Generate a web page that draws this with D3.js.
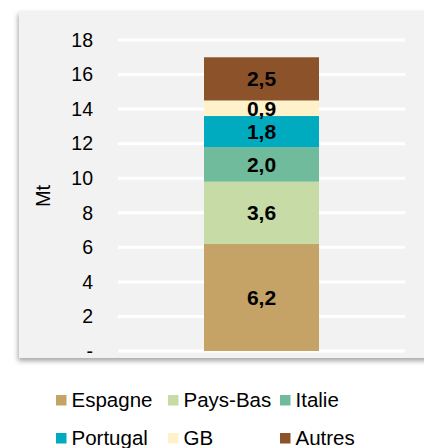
<!DOCTYPE html>
<html>
<head>
<meta charset="utf-8">
<script src="https://cdn.jsdelivr.net/npm/d3@7"></script>
<style>
  body { margin: 0; background: #fff; }
  svg { display: block; font-family: Arial, "Liberation Sans", sans-serif; }
</style>
</head>
<body>
<div id="chart"></div>
<script>
// données
const categories = ["Espagne", "Pays-Bas", "Italie", "Portugal", "GB", "Autres"];
const values = [6.2, 3.6, 2.0, 1.8, 0.9, 2.5];
const labels = ["6,2", "3,6", "2,0", "1,8", "0,9", "2,5"];
const colors = ["#c5a266", "#c6dba6", "#6fbb9c", "#00abc0", "#fff1c9", "#8c522a"];
const yTicks = [0, 2, 4, 6, 8, 10, 12, 14, 16, 18];
const yTickLabels = ["-", "2", "4", "6", "8", "10", "12", "14", "16", "18"];

const WIDTH = 424;
const HEIGHT = 448;

const svg = d3.select("#chart").append("svg")
  .attr("width", WIDTH)
  .attr("height", HEIGHT);

// ombre du cadre
const defs = svg.append("defs");
const filter = defs.append("filter").attr("id", "shadow")
  .attr("x", -0.1).attr("y", -0.1).attr("width", 1.3).attr("height", 1.3);
filter.append("feDropShadow")
  .attr("dx", -1).attr("dy", 3).attr("stdDeviation", 2.5)
  .attr("flood-color", "#000").attr("flood-opacity", 0.35);

svg.append("rect")
  .attr("x", 19).attr("y", 11)
  .attr("width", 430).attr("height", 347)
  .attr("fill", "#f2f2f2")
  .attr("filter", "url(#shadow)");

// échelles
const y = d3.scaleLinear().domain([0, 18]).range([351, 40]);
const x = d3.scaleBand().domain(["total"]).range([118, 405]).paddingInner(0).paddingOuter(0.748);

// grille
svg.append("g")
  .selectAll("line")
  .data(yTicks)
  .join("line")
  .attr("x1", 118).attr("x2", 405)
  .attr("y1", d => y(d)).attr("y2", d => y(d))
  .attr("stroke", "#fff")
  .attr("stroke-width", 3);

// axe Y
const yAxis = d3.axisLeft(y)
  .tickValues(yTicks)
  .tickFormat((d, i) => yTickLabels[i])
  .tickSize(0)
  .tickPadding(0);

const gy = svg.append("g")
  .attr("transform", "translate(93,0)")
  .call(yAxis);
gy.select(".domain").remove();
gy.selectAll("text")
  .attr("font-size", 19.5)
  .attr("font-family", "Arial, 'Liberation Sans', sans-serif")
  .attr("fill", "#000");

svg.append("text")
  .attr("transform", `translate(43,196) rotate(-90)`)
  .attr("text-anchor", "middle")
  .attr("dy", "0.36em")
  .attr("font-size", 20)
  .attr("fill", "#000")
  .text("Mt");

// barre empilée
const stackData = [Object.fromEntries(categories.map((c, i) => [c, values[i]]))];
const series = d3.stack().keys(categories)(stackData);

const bars = svg.append("g");
bars.selectAll("rect")
  .data(series)
  .join("rect")
  .attr("x", x("total"))
  .attr("width", x.bandwidth())
  .attr("y", d => y(d[0][1]))
  .attr("height", d => y(d[0][0]) - y(d[0][1]))
  .attr("fill", (d, i) => colors[i]);

bars.selectAll("text")
  .data(series)
  .join("text")
  .attr("x", x("total") + x.bandwidth() / 2)
  .attr("y", d => y((d[0][0] + d[0][1]) / 2))
  .attr("dy", "0.36em")
  .attr("text-anchor", "middle")
  .attr("font-size", 21)
  .attr("font-weight", "bold")
  .attr("fill", "#000")
  .text((d, i) => labels[i]);

// légende
const legendX = [56, 168, 280];
const legendY = [400, 438];
const legend = svg.append("g")
  .selectAll("g")
  .data(categories)
  .join("g")
  .attr("transform", (d, i) => `translate(${legendX[i % 3]},${legendY[Math.floor(i / 3)]})`);

legend.append("rect")
  .attr("x", 0).attr("y", -5)
  .attr("width", 10.5).attr("height", 10.5)
  .attr("fill", (d, i) => colors[i]);

legend.append("text")
  .attr("x", 15.5)
  .attr("dy", "0.36em")
  .attr("font-size", 20.5)
  .attr("fill", "#000")
  .text(d => d);
</script>
</body>
</html>
